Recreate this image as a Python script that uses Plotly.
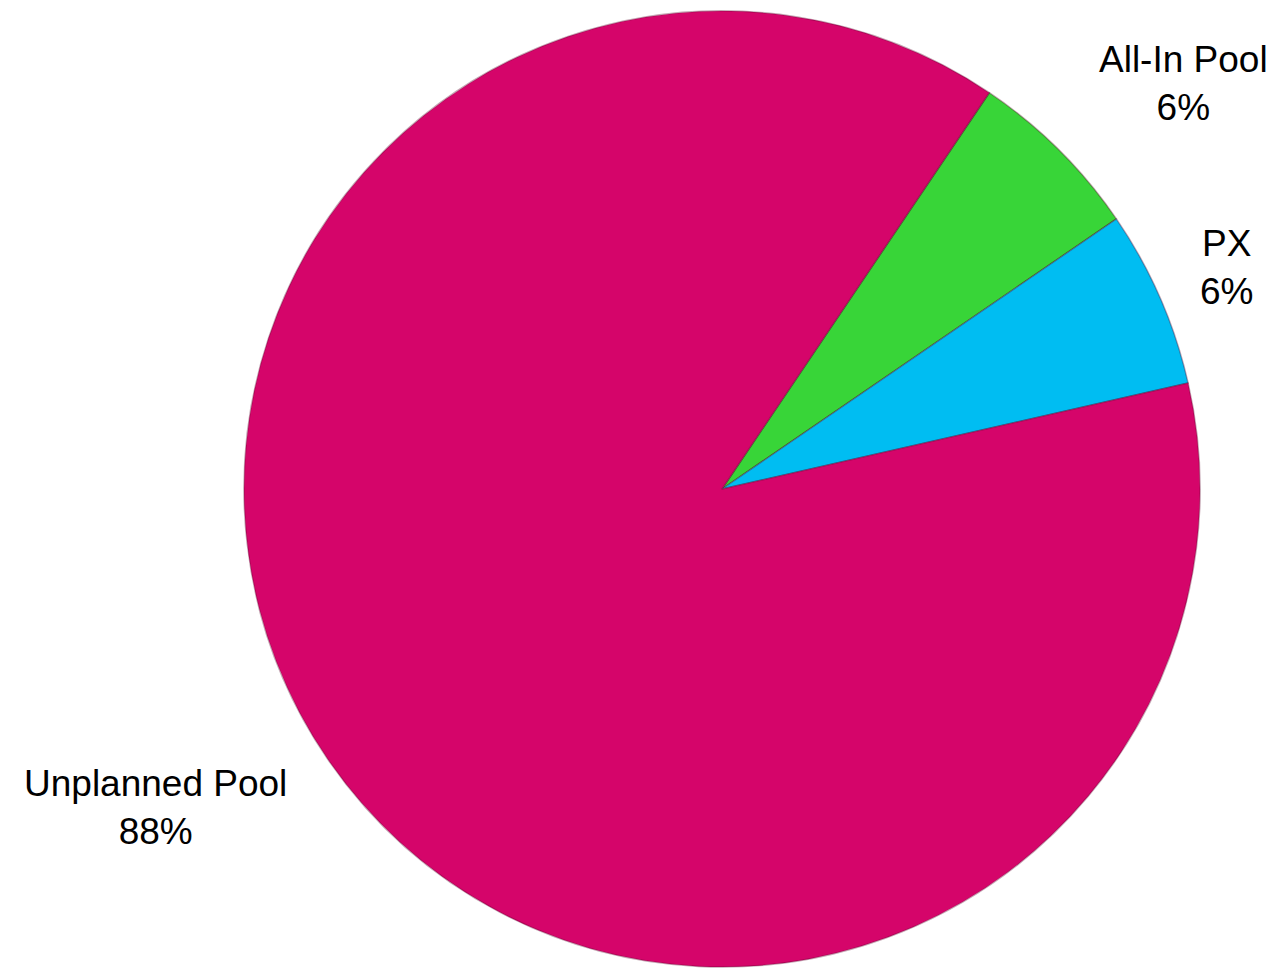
import plotly.graph_objects as go

labels = ["All-In Pool", "PX", "Unplanned Pool"]
values = [6, 6, 88]
colors = ["#38D538", "#00BDF2", "#D5056A"]

# label placement (paper coordinates) for each category
label_x = [0.9173, 0.9516, 0.1155]
label_y = [0.9219, 0.7338, 0.1788]

total = sum(values)

fig = go.Figure(go.Pie(
    labels=labels,
    values=values,
    sort=False,
    direction="clockwise",
    rotation=34,
    marker=dict(colors=colors, line=dict(color="rgba(90,0,40,0.35)", width=1.5)),
    textinfo="none",
    textposition="none",
    showlegend=False,
    domain=dict(x=[0.1148, 1.0], y=[0.01439, 0.99692]),
    hoverinfo="label+percent",
))

for lab, val, x, y in zip(labels, values, label_x, label_y):
    fig.add_annotation(
        x=x, y=y, xref="paper", yref="paper",
        text=f"{lab}<br>{round(100 * val / total)}%",
        showarrow=False, xanchor="center", yanchor="middle", align="center",
        font=dict(family="Liberation Sans, Arial, sans-serif", size=37, color="#000000"),
    )

fig.update_layout(
    width=1281,
    height=973,
    margin=dict(l=0, r=0, t=0, b=0, pad=0),
    paper_bgcolor="white",
    plot_bgcolor="white",
    font=dict(family="Liberation Sans, Arial, sans-serif", size=37, color="#000000"),
)

fig.write_html("out.html")
